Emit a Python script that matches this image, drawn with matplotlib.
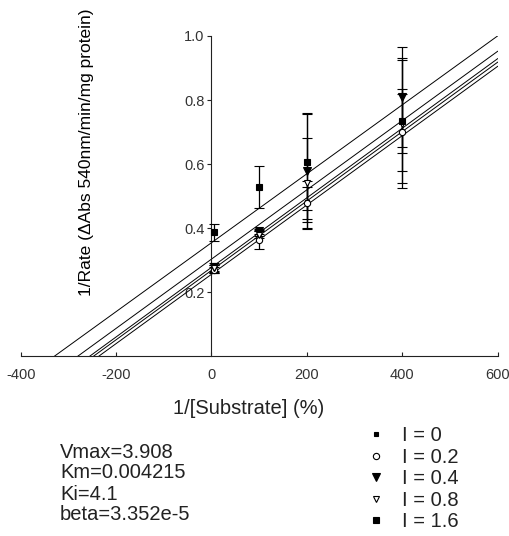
import matplotlib.pyplot as plt
from matplotlib.lines import Line2D

plt.rcParams['font.family'] = ['Liberation Sans', 'DejaVu Sans']
plt.rcParams['axes.unicode_minus'] = False

# Data
x = [5, 100, 200, 400]

y_i0 = [0.272, 0.385, 0.483, 0.735]
e_i0 = [0.012, 0.010, 0.065, 0.100]

y_i02 = [0.270, 0.363, 0.478, 0.700]
e_i02 = [0.010, 0.028, 0.050, 0.120]

y_i04 = [0.280, 0.390, 0.577, 0.809]
e_i04 = [0.012, 0.008, 0.180, 0.155]

y_i08 = [0.275, 0.380, 0.542, 0.725]
e_i08 = [0.010, 0.010, 0.140, 0.200]

y_i16 = [0.387, 0.529, 0.608, 0.736]
e_i16 = [0.027, 0.065, 0.150, 0.194]

# fitted lines: x where the line meets y=0, and its value at x=600
line_x0 = [-237, -248, -256, -281, -330]
line_y600 = [0.905, 0.918, 0.929, 0.952, 1.0]

labels = ['I = 0', 'I = 0.2', 'I = 0.4', 'I = 0.8', 'I = 1.6']
notes = ['Vmax=3.908', 'Km=0.004215', 'Ki=4.1', 'beta=3.352e-5']

fig = plt.figure(figsize=(5.09, 5.36), dpi=100)
ax = fig.add_axes([0.0407, 0.335, 0.937, 0.598])

for x0, y1 in zip(line_x0, line_y600):
    ax.plot([x0, 600], [0, y1], color='black', linewidth=0.7, zorder=2)

styles = [
    dict(marker='s', markersize=3.5, markerfacecolor='black'),
    dict(marker='o', markersize=4.5, markerfacecolor='white'),
    dict(marker='v', markersize=6, markerfacecolor='black'),
    dict(marker='v', markersize=5, markerfacecolor='white'),
    dict(marker='s', markersize=5, markerfacecolor='black'),
]
series = [(y_i0, e_i0), (y_i02, e_i02), (y_i04, e_i04), (y_i08, e_i08), (y_i16, e_i16)]

for (ys, es), st in zip(series, styles):
    ax.errorbar(
        x, ys, yerr=es,
        linestyle='none',
        color='black',
        ecolor='black',
        elinewidth=0.9,
        capsize=3.6,
        capthick=1.2,
        markeredgecolor='black',
        markeredgewidth=0.8,
        zorder=3,
        **st
    )

ax.set_xlim(-400, 600)
ax.set_ylim(0, 1.0)
ax.set_xticks([-400, -200, 0, 200, 400, 600])
ax.set_yticks([0.2, 0.4, 0.6, 0.8, 1.0])
ax.set_yticklabels(['0.2', '0.4', '0.6', '0.8', '1.0'])

ax.spines['left'].set_position(('data', 0))
ax.spines['bottom'].set_position(('data', 0))
ax.spines['right'].set_visible(False)
ax.spines['top'].set_visible(False)
for s in ['left', 'bottom']:
    ax.spines[s].set_linewidth(0.8)
    ax.spines[s].set_color('#222222')

ax.tick_params(axis='x', direction='in', length=3, width=0.8, pad=8,
               labelsize=10.5, labelcolor='#333333', color='#222222')
ax.tick_params(axis='y', direction='out', length=3, width=0.8, pad=2,
               labelsize=10.5, labelcolor='#333333', color='#222222')
for lab in ax.get_yticklabels():
    lab.set_bbox(dict(facecolor='white', edgecolor='none', pad=0.5))
ax.patch.set_visible(False)

fig.text(87 / 509, 1 - 152 / 536, '1/Rate (\u0394Abs 540nm/min/mg protein)',
         rotation=90, ha='center', va='center', fontsize=12.5, color='black')
fig.text(249 / 509, 1 - 408 / 536, '1/[Substrate] (%)',
         ha='center', va='center', fontsize=14.5, color='#222222')

for i, t in enumerate(notes):
    fig.text(60 / 509, 1 - (452 + 21 * i) / 536, t,
             ha='left', va='center', fontsize=14.5, color='#222222')

handles = [Line2D([], [], linestyle='none', color='black',
                  markeredgecolor='black', markeredgewidth=0.8, **st)
           for st in styles]
fig.legend(handles, labels, loc='upper left',
           bbox_to_anchor=(368 / 509, 1 - 426 / 536),
           frameon=False, fontsize=14.5, handlelength=0.8, handletextpad=0.9,
           labelspacing=0.13, borderpad=0, borderaxespad=0, labelcolor='#222222')

fig.savefig('out.png', dpi=100)
